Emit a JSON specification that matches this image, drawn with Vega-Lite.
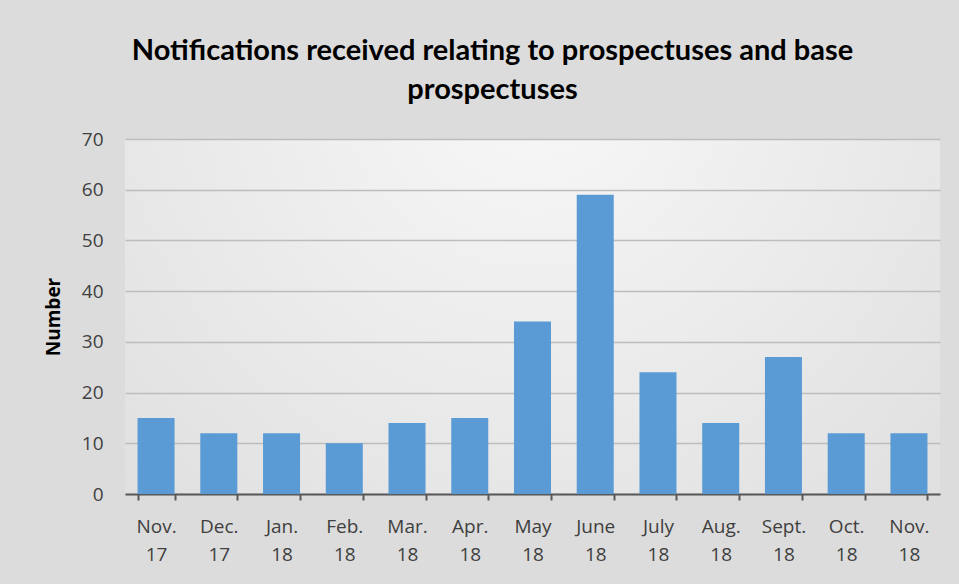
{
  "$schema": "https://vega.github.io/schema/vega-lite/v6.json",
  "autosize": "none",
  "width": 815,
  "height": 355,
  "padding": {"left": 125, "top": 139, "right": 19, "bottom": 90},
  "background": "#dcdcdc",
  "title": {
    "text": ["Notifications received relating to prospectuses and base", "prospectuses"],
    "font": "Lato",
    "fontSize": 29,
    "fontWeight": "bold",
    "color": "#000000",
    "lineHeight": 39,
    "anchor": "middle",
    "frame": "group",
    "dx": -40,
    "offset": 25
  },
  "config": {
    "view": {
      "stroke": null,
      "fill": {
        "gradient": "radial",
        "x1": 0.5, "y1": 0.2, "x2": 0.5, "y2": 0.2, "r1": 0, "r2": 0.95,
        "stops": [{"offset": 0, "color": "#f8f8f8"}, {"offset": 1, "color": "#d8d8d8"}]
      }
    },
    "axis": {
      "labelFont": "Open Sans",
      "labelFontSize": 19,
      "labelColor": "#404040",
      "titleFont": "Open Sans",
      "titleFontSize": 19,
      "titleFontWeight": "bold",
      "titleColor": "#000000"
    }
  },
  "data": {
    "values": [
      {"month": "Nov. 17", "count": 15},
      {"month": "Dec. 17", "count": 12},
      {"month": "Jan. 18", "count": 12},
      {"month": "Feb. 18", "count": 10},
      {"month": "Mar. 18", "count": 14},
      {"month": "Apr. 18", "count": 15},
      {"month": "May 18", "count": 34},
      {"month": "June 18", "count": 59},
      {"month": "July 18", "count": 24},
      {"month": "Aug. 18", "count": 14},
      {"month": "Sept. 18", "count": 27},
      {"month": "Oct. 18", "count": 12},
      {"month": "Nov. 18", "count": 12}
    ]
  },
  "mark": {"type": "bar", "color": "#5b9bd5"},
  "encoding": {
    "x": {
      "field": "month",
      "type": "nominal",
      "sort": null,
      "scale": {"paddingInner": 0.41, "paddingOuter": 0.2},
      "axis": {
        "title": null,
        "labelAngle": 0,
        "labelExpr": "split(datum.label, ' ')",
        "labelLineHeight": 28,
        "labelPadding": 17,
        "domainColor": "#595959",
        "domainWidth": 2,
        "tickColor": "#595959",
        "tickWidth": 2,
        "tickSize": 6,
        "tickBand": "extent",
        "grid": false
      }
    },
    "y": {
      "field": "count",
      "type": "quantitative",
      "scale": {"domain": [0, 70]},
      "axis": {
        "title": "Number",
        "titlePadding": 18,
        "values": [0, 10, 20, 30, 40, 50, 60, 70],
        "domain": false,
        "ticks": false,
        "labelPadding": 22,
        "gridColor": "#bdbdbd",
        "gridWidth": 1.5
      }
    }
  }
}
